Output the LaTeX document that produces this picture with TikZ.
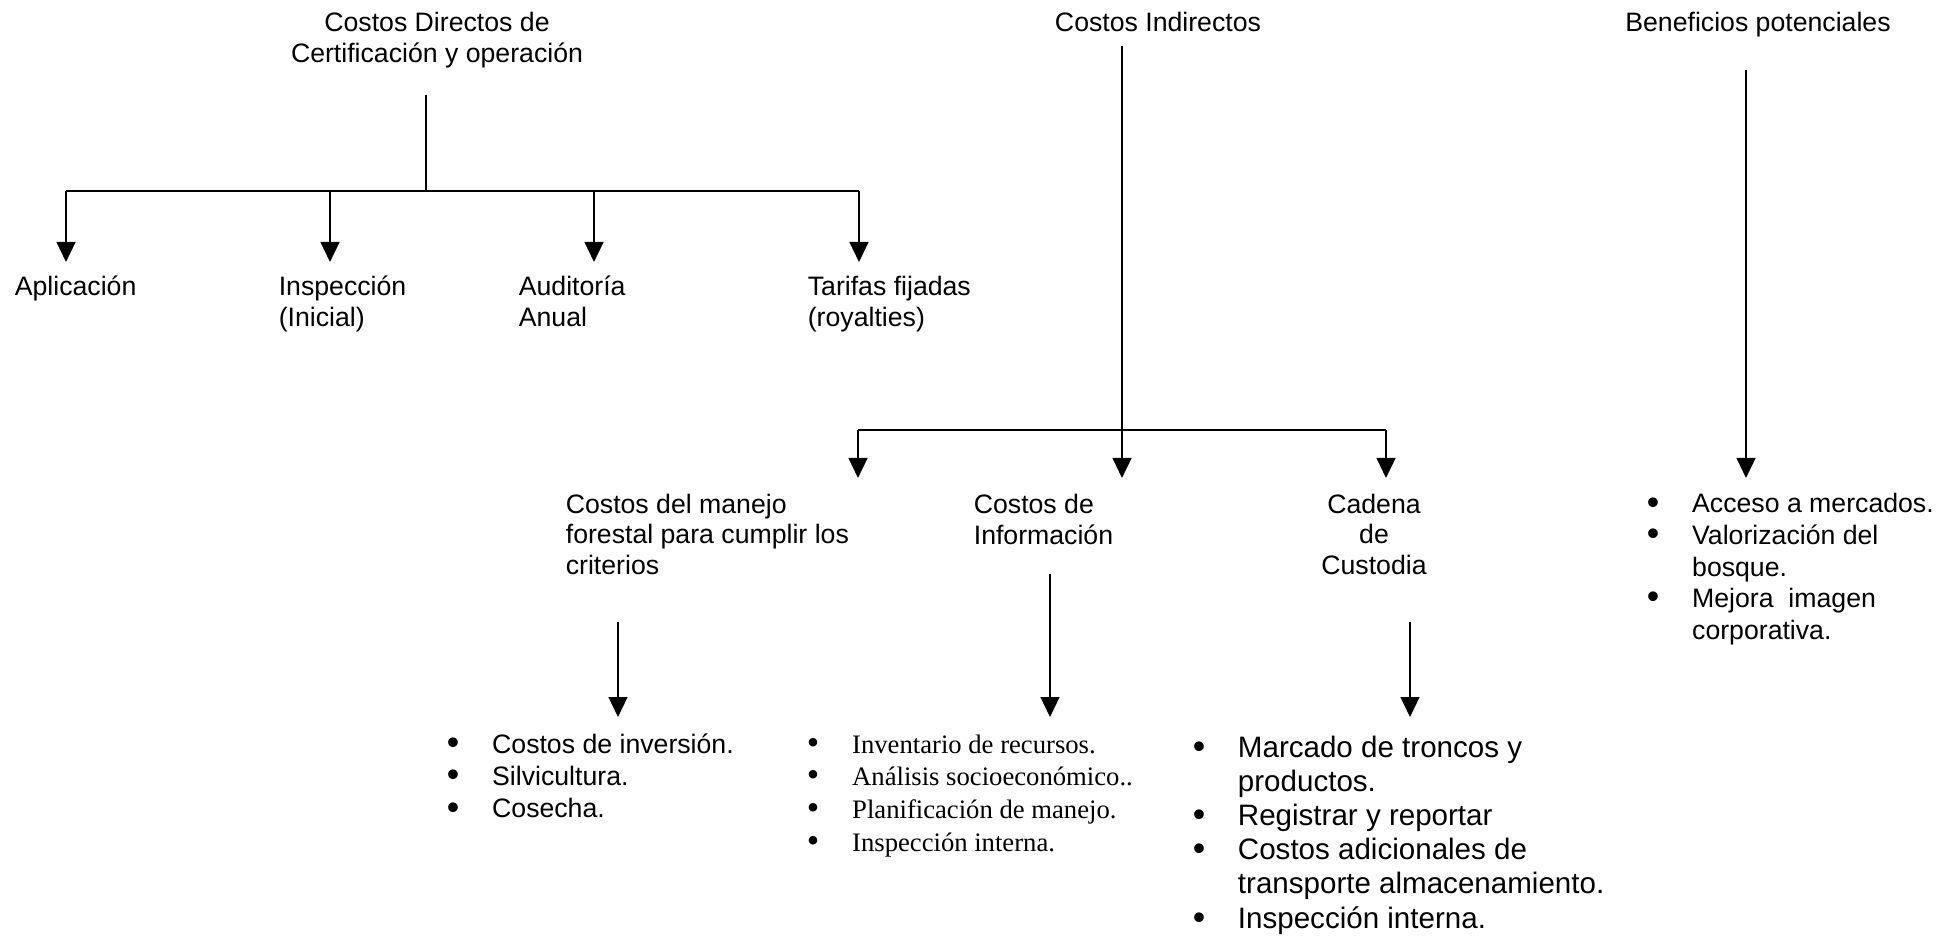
\documentclass[tikz,border=0pt]{standalone}
\usepackage{fontspec}
\setmainfont{Liberation Sans}
\newfontfamily\timesf{Liberation Serif}
\usetikzlibrary{arrows.meta}
\newcommand{\bul}{\raisebox{-0.5pt}{\fontsize{16}{16}\selectfont•}}

\begin{document}
\begin{tikzpicture}[x=0.45pt, y=-0.45pt, line width=0.75pt]
  \tikzset{hd/.style={anchor=base, inner sep=0pt, align=center, font=\fontsize{12}{14}\selectfont},
    lbl/.style={anchor=base west, inner sep=0pt, align=left, font=\fontsize{12}{14}\selectfont},
    lst/.style={anchor=base west, inner sep=0pt},
    arr/.style={-{Triangle[length=9pt, width=8.5pt]}}}
  \useasboundingbox (0,0) rectangle (1938,937);
  \node[hd] (dir) at (437,63) {Costos Directos de\\Certificación y operación};
  \node[hd] (ind) at (1158,32) {Costos Indirectos};
  \node[hd] (ben) at (1758,32) {Beneficios potenciales};
  \node[lbl] (apl) at (14,296) {Aplicación};
  \node[lbl] (insp) at (278,327) {Inspección\\(Inicial)};
  \node[lbl] (aud) at (518,327) {Auditoría\\Anual};
  \node[lbl] (tar) at (807,327) {Tarifas fijadas\\(royalties)};
  \node[lbl, font=\fontsize{12}{13.7}\selectfont] (man) at (565,574) {Costos del manejo\\forestal para cumplir los\\criterios};
  \node[lbl, font=\fontsize{12}{13.7}\selectfont] (info) at (973,544) {Costos de\\Información};
  \node[hd, font=\fontsize{12}{13.7}\selectfont] (cad) at (1374,574) {Cadena\\de\\Custodia};
  \node[lst, font=\fontsize{12}{14.6}\selectfont] (lman) at (446,753) {\begin{tabular}[t]{@{}p{20.4pt}@{}l@{}}
    \bul&Costos de inversión.\\ \bul&Silvicultura.\\ \bul&Cosecha.\end{tabular}};
  \node[lst, font=\fontsize{12}{14.7}\selectfont\timesf] (linfo) at (806,753) {\begin{tabular}[t]{@{}p{20.4pt}@{}l@{}}
    \bul&Inventario de recursos.\\ \bul&Análisis socioeconómico..\\ \bul&Planificación de manejo.\\ \bul&Inspección interna.\end{tabular}};
  \node[lst, font=\fontsize{13.3}{15.4}\selectfont] (lcad) at (1192,757) {\begin{tabular}[t]{@{}p{20.3pt}@{}l@{}}
    \bul&Marcado de troncos y\\ &productos.\\ \bul&Registrar y reportar\\ \bul&Costos adicionales de\\ &transporte almacenamiento.\\ \bul&Inspección interna.\end{tabular}};
  \node[lst, font=\fontsize{12}{14.2}\selectfont] (lben) at (1646,513) {\begin{tabular}[t]{@{}p{20.4pt}@{}l@{}}
    \bul&Acceso a mercados.\\ \bul&Valorización del\\ &bosque.\\ \bul&Mejora\ \ imagen\\ &corporativa.\end{tabular}};
  \coordinate (d0) at (426,95);
  \coordinate (d1) at (426,191);
  \coordinate (ta) at (66,262);
  \coordinate (tb) at (330,262);
  \coordinate (tc) at (594,262);
  \coordinate (td) at (859,262);
  \draw (d0) -- (d1);
  \draw (ta |- d1) -- (td |- d1);
  \foreach \t in {ta,tb,tc,td}
    \draw[arr] (\t |- d1) -- (\t);
  \coordinate (i0) at (1122,46);
  \coordinate (i1) at (1122,430);
  \coordinate (ia) at (858,478);
  \coordinate (ib) at (1122,478);
  \coordinate (ic) at (1386,478);
  \draw[arr] (i0) -- (ib);
  \draw (ia |- i1) -- (ic |- i1);
  \draw[arr] (ia |- i1) -- (ia);
  \draw[arr] (ic |- i1) -- (ic);
  \coordinate (b0) at (1746,70);
  \coordinate (b1) at (1746,478);
  \draw[arr] (b0) -- (b1);
  \coordinate (m0) at (618,622);
  \coordinate (m1) at (618,717);
  \coordinate (n0) at (1050,574);
  \coordinate (n1) at (1050,717);
  \coordinate (c0) at (1410,622);
  \coordinate (c1) at (1410,717);
  \draw[arr] (m0) -- (m1);
  \draw[arr] (n0) -- (n1);
  \draw[arr] (c0) -- (c1);
\end{tikzpicture}
\end{document}
